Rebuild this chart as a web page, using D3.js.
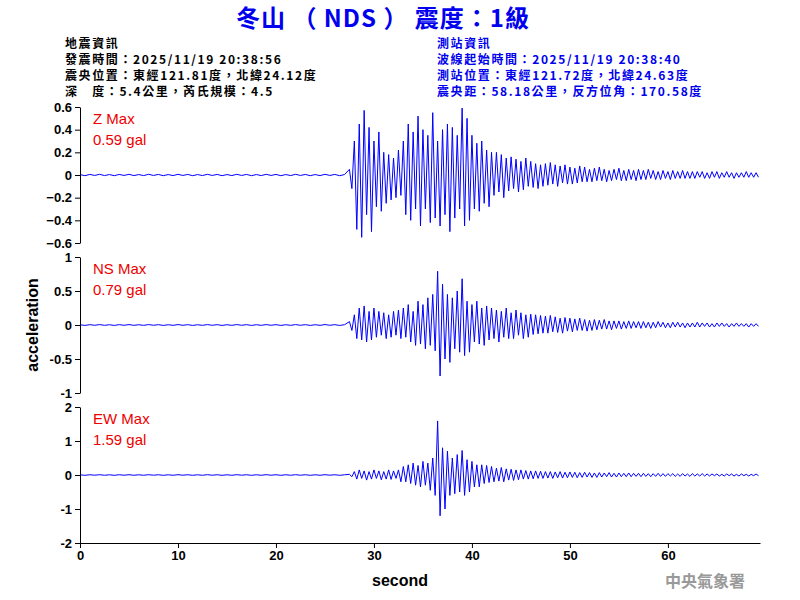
<!DOCTYPE html>
<html><head><meta charset="utf-8">
<script src="https://cdn.jsdelivr.net/npm/d3@7"></script>
<style>body{margin:0;background:#fff}</style></head>
<body><svg id="c" width="800" height="600"></svg>
<script>
const tStart = 27.5, tStep = 0.25, noiseStep = 0.5;
const noise = [0.004,-0.006,0.005,-0.004,0.006,-0.005,0.004,-0.006,0.005,-0.004,0.006,-0.005,0.004,-0.005,0.006,-0.004,0.005,-0.006,0.004,-0.005,0.006,-0.004,0.005,-0.006,0.004,-0.005,0.006,-0.004,0.005,-0.006,0.004,-0.005,0.006,-0.004,0.005,-0.006,0.004,-0.005,0.006,-0.004,0.005,-0.006,0.004,-0.005,0.006,-0.004,0.005,-0.006,0.004,-0.005,0.006,-0.004,0.005,-0.006,0.004];
const zVals = [0.05,-0.12,0.3,-0.48,0.45,-0.55,0.57,-0.35,0.42,-0.5,0.3,-0.28,0.38,-0.32,0.2,-0.25,0.18,-0.22,0.15,-0.2,
0.22,-0.18,0.3,-0.35,0.45,-0.4,0.38,-0.3,0.52,-0.45,0.4,-0.3,0.35,-0.42,0.55,-0.38,0.3,-0.45,0.4,-0.35,
0.45,-0.5,0.42,-0.38,0.35,-0.3,0.59,-0.45,0.5,-0.4,0.35,-0.3,0.28,-0.32,0.3,-0.25,0.22,-0.28,0.2,-0.18,
0.2,-0.15,0.18,-0.2,0.15,-0.14,0.16,-0.12,0.14,-0.15,0.12,-0.13,0.15,-0.1,0.12,-0.11,0.1,-0.12,0.09,-0.1,
0.1,-0.09,0.11,-0.08,0.09,-0.1,0.08,-0.07,0.09,-0.08,0.07,-0.08,0.06,-0.07,0.08,-0.06,0.07,-0.06,0.05,-0.06,
0.06,-0.05,0.07,-0.05,0.05,-0.06,0.04,-0.05,0.05,-0.04,0.06,-0.05,0.04,-0.05,0.05,-0.04,0.04,-0.05,0.05,-0.04,
0.04,-0.04,0.05,-0.03,0.04,-0.04,0.03,-0.04,0.04,-0.03,0.03,-0.04,0.04,-0.03,0.03,-0.03,0.04,-0.03,0.03,-0.03,
0.03,-0.03,0.03,-0.02,0.03,-0.03,0.02,-0.03,0.03,-0.02,0.03,-0.03,0.02,-0.02,0.03,-0.02,0.02,-0.03,0.02,-0.02,
0.02,-0.02,0.03,-0.02,0.02,-0.02,0.02,-0.02];
const nsVals = [0.05,-0.08,0.15,-0.2,0.25,-0.22,0.28,-0.25,0.2,-0.22,0.25,-0.18,0.2,-0.15,0.18,-0.2,0.15,-0.18,0.2,-0.15,
0.22,-0.2,0.25,-0.18,0.3,-0.25,0.2,-0.3,0.35,-0.28,0.3,-0.35,0.4,-0.3,0.45,-0.38,0.79,-0.75,0.6,-0.5,
0.45,-0.55,0.4,-0.35,0.5,-0.4,0.68,-0.45,0.35,-0.4,0.3,-0.25,0.35,-0.28,0.25,-0.3,0.28,-0.22,0.25,-0.2,
0.22,-0.25,0.2,-0.18,0.25,-0.2,0.18,-0.2,0.22,-0.15,0.18,-0.2,0.15,-0.18,0.16,-0.14,0.15,-0.13,0.14,-0.12,
0.13,-0.12,0.14,-0.1,0.12,-0.11,0.1,-0.12,0.11,-0.09,0.1,-0.1,0.09,-0.08,0.1,-0.08,0.08,-0.09,0.07,-0.08,
0.08,-0.07,0.07,-0.06,0.08,-0.06,0.06,-0.07,0.06,-0.05,0.06,-0.06,0.05,-0.05,0.06,-0.05,0.05,-0.04,0.05,-0.05,
0.05,-0.04,0.04,-0.05,0.04,-0.04,0.05,-0.03,0.04,-0.04,0.03,-0.04,0.04,-0.03,0.04,-0.03,0.03,-0.04,0.03,-0.03,
0.03,-0.03,0.04,-0.03,0.03,-0.02,0.03,-0.03,0.02,-0.03,0.03,-0.02,0.03,-0.02,0.02,-0.03,0.02,-0.02,0.03,-0.02,
0.02,-0.02,0.02,-0.03,0.02,-0.02,0.02,-0.02];
const ewVals = [0.02,-0.05,0.1,-0.12,0.15,-0.1,0.12,-0.15,0.1,-0.12,0.15,-0.1,0.12,-0.14,0.1,-0.12,0.15,-0.13,0.12,-0.1,
0.15,-0.2,0.25,-0.2,0.3,-0.25,0.35,-0.3,0.28,-0.35,0.4,-0.3,0.35,-0.45,0.5,-0.6,1.59,-1.2,0.8,-1.0,
0.7,-0.6,0.5,-0.55,0.6,-0.5,0.72,-0.6,0.45,-0.5,0.4,-0.35,0.3,-0.35,0.3,-0.25,0.28,-0.22,0.25,-0.2,
0.2,-0.18,0.22,-0.2,0.18,-0.15,0.17,-0.16,0.15,-0.14,0.15,-0.12,0.13,-0.12,0.12,-0.11,0.12,-0.1,0.11,-0.1,
0.1,-0.09,0.1,-0.1,0.09,-0.08,0.1,-0.09,0.08,-0.08,0.09,-0.07,0.08,-0.08,0.07,-0.07,0.08,-0.06,0.07,-0.07,
0.06,-0.07,0.07,-0.06,0.06,-0.05,0.07,-0.06,0.05,-0.06,0.06,-0.05,0.05,-0.05,0.06,-0.05,0.05,-0.04,0.05,-0.05,
0.05,-0.04,0.04,-0.05,0.04,-0.04,0.05,-0.04,0.04,-0.04,0.04,-0.03,0.04,-0.04,0.03,-0.04,0.04,-0.03,0.03,-0.04,
0.04,-0.03,0.03,-0.03,0.04,-0.03,0.03,-0.03,0.03,-0.02,0.03,-0.03,0.02,-0.03,0.03,-0.02,0.03,-0.03,0.02,-0.03,
0.03,-0.02,0.02,-0.03,0.02,-0.02,0.03,-0.02];
const panels = [
 {name:"Z Max", peak:"0.59 gal", vals:zVals, lim:0.6, ticks:[-0.6,-0.4,-0.2,0,0.2,0.4,0.6], noiseScale:1, tickFmt:d=>d===0?"0":d3.format(".1f")(d)},
 {name:"NS Max", peak:"0.79 gal", vals:nsVals, lim:1, ticks:[-1,-0.5,0,0.5,1], noiseScale:1, tickFmt:d=>String(d)},
 {name:"EW Max", peak:"1.59 gal", vals:ewVals, lim:2, ticks:[-2,-1,0,1,2], noiseScale:1.5, tickFmt:d=>String(d)}
];
const xTicks = [0,10,20,30,40,50,60];
const headerLeft = ["地震資訊","發震時間：2025/11/19 20:38:56","震央位置：東經121.81度，北緯24.12度","深　度：5.4公里，芮氏規模：4.5"];
const headerRight = ["測站資訊","波線起始時間：2025/11/19 20:38:40","測站位置：東經121.72度，北緯24.63度","震央距：58.18公里，反方位角：170.58度"];

const svg = d3.select("#c");
const x = d3.scaleLinear().domain([0,69.4]).range([80,760]);
const top0 = 107, ph = 136, gap = 14;
svg.append("text").attr("x",383).attr("y",27).attr("text-anchor","middle").attr("fill","#0000ee")
 .attr("font-family","Noto Sans CJK TC, sans-serif").attr("font-weight","bold").attr("font-size",24).attr("letter-spacing",1).text("冬山 （ NDS ） 震度：1級");
const hf = "Noto Sans CJK TC, Liberation Sans, sans-serif";
headerLeft.forEach((s,i)=>svg.append("text").attr("x",65).attr("y",48+i*16).attr("font-family",hf).attr("font-size",12).attr("font-weight","bold").attr("letter-spacing",1.6).attr("fill","#000").text(s));
headerRight.forEach((s,i)=>svg.append("text").attr("x",437).attr("y",48+i*16).attr("font-family",hf).attr("font-size",12).attr("font-weight","bold").attr("letter-spacing",1.6).attr("fill","#0000ee").text(s));

panels.forEach((p,k)=>{
  const y0 = top0 + k*(ph+gap);
  const y = d3.scaleLinear().domain([-p.lim,p.lim]).range([y0+ph,y0]);
  const pts = noise.map((v,i)=>[i*noiseStep, v*p.noiseScale]).concat(p.vals.map((v,i)=>[tStart+i*tStep, v]));
  svg.append("path").attr("d",d3.line().x(d=>x(d[0])).y(d=>y(d[1]))(pts)).attr("fill","none").attr("stroke","#0000ff").attr("stroke-width",1);
  const ax = svg.append("g").attr("transform","translate(80,0)").call(d3.axisLeft(y).tickValues(p.ticks).tickFormat(p.tickFmt).tickSize(5).tickSizeOuter(0));
  ax.selectAll("text").attr("font-family","Liberation Sans, Arial").attr("font-size",13).attr("font-weight","bold").attr("fill","#000");
  ax.select(".domain").attr("stroke","#000");
  svg.append("text").attr("x",93).attr("y",y0+17).attr("fill","#ee0000").attr("font-family","Liberation Sans, Arial").attr("font-size",15).text(p.name);
  svg.append("text").attr("x",93).attr("y",y0+38).attr("fill","#ee0000").attr("font-family","Liberation Sans, Arial").attr("font-size",15).text(p.peak);
});
const xa = svg.append("g").attr("transform","translate(0,543)").call(d3.axisBottom(x).tickValues(xTicks).tickSize(5).tickSizeOuter(0));
xa.selectAll("text").attr("font-family","Liberation Sans, Arial").attr("font-size",13).attr("font-weight","bold").attr("fill","#000");
svg.append("text").attr("x",400).attr("y",586).attr("text-anchor","middle").attr("font-family","Liberation Sans, Arial").attr("font-size",16).attr("font-weight","bold").text("second");
svg.append("text").attr("transform","translate(38,325) rotate(-90)").attr("text-anchor","middle").attr("font-family","Liberation Sans, Arial").attr("font-size",16).attr("font-weight","bold").text("acceleration");
svg.append("text").attr("x",745).attr("y",587).attr("text-anchor","end").attr("fill","#999").attr("font-family","Noto Sans CJK TC, sans-serif").attr("font-weight","bold").attr("font-size",16).text("中央氣象署");
</script></body></html>
